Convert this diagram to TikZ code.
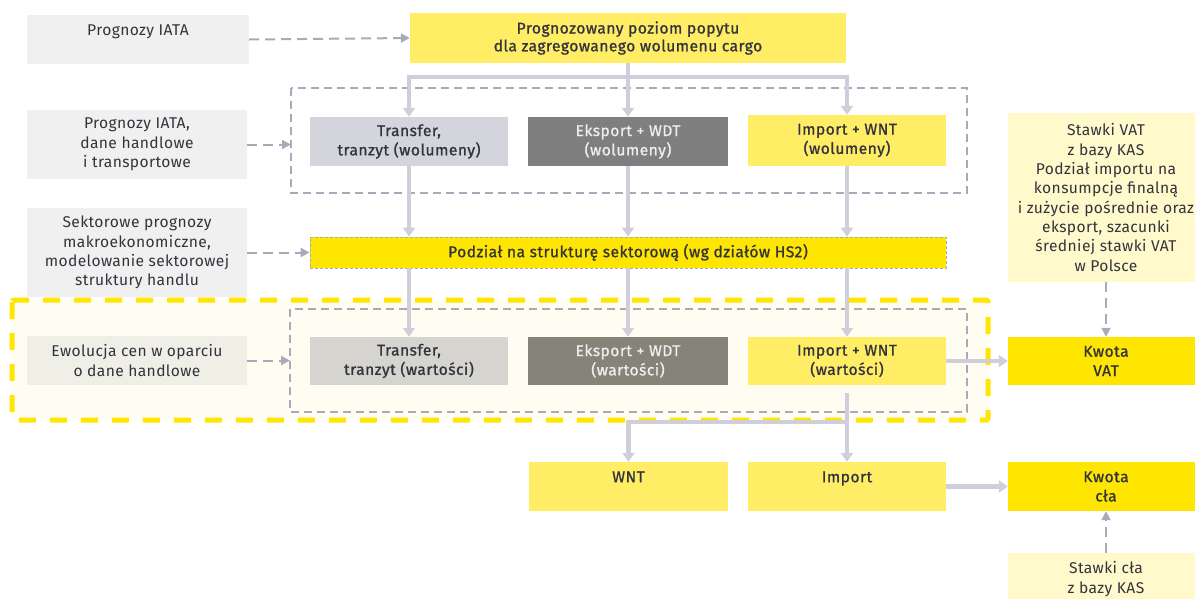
\documentclass[tikz,border=0pt]{standalone}
\usepackage{fontspec}
\setmainfont{Fira Sans}[LetterSpace=2.5]
\newfontfamily\mdfont{Fira Sans}[FakeBold=1.0,LetterSpace=3]
\usetikzlibrary{arrows.meta}
\definecolor{txt}{HTML}{33333D}
\definecolor{ingray}{HTML}{F0F0F0}
\definecolor{inolive}{HTML}{EFEFE5}
\definecolor{cream}{HTML}{FFFCF2}
\definecolor{ybright}{HTML}{FFE600}
\definecolor{ymid}{HTML}{FFED66}
\definecolor{ypale}{HTML}{FFF9CC}
\definecolor{tvol}{HTML}{D4D4DC}
\definecolor{evol}{HTML}{7F7F7F}
\definecolor{twar}{HTML}{D5D4CF}
\definecolor{ewar}{HTML}{868379}
\definecolor{dgray}{HTML}{A9A9BA}
\definecolor{sgray}{HTML}{CFCFDB}
\definecolor{lighttxt}{HTML}{EEEEEE}
\newcommand\rgsize{\fontsize{15.6}{19.3}\selectfont}
\begin{document}
\begin{tikzpicture}[x=1pt,y=-1pt,
  every node/.style={inner sep=0pt, align=center, text=txt, font=\rgsize},
  inbox/.style={fill=ingray},
  mainbox/.style={font=\rgsize\mdfont},
  sol/.style={draw=sgray, line width=4.5pt, line join=miter, -{Triangle[width=12pt,length=9pt]}},
  dsh/.style={draw=dgray, line width=2pt, dash pattern=on 10pt off 6pt, -{Triangle[width=9pt,length=9pt]}},
  grpbox/.style={draw=dgray, line width=1.6pt, dash pattern=on 8pt off 5pt}
]
\useasboundingbox (0,0) rectangle (1195,598);

% yellow highlighted region
\path[fill=cream] (12,300) rectangle (988,420);
\draw[ybright, line width=5pt, dash pattern=on 17pt off 14pt, rounded corners=2pt] (12,300) rectangle (988,420);

% group boxes
\draw[grpbox] (291,88) rectangle (967,193);
\draw[grpbox] (290,309) rectangle (967,412);

% input boxes
\node[inbox, minimum width=222pt, minimum height=49pt] (in1) at (138,39.5) {Prognozy IATA\\~};
\node[inbox, minimum width=220pt, minimum height=69pt] (in2) at (137,144.5) {Prognozy IATA,\\dane handlowe\\i transportowe};
\node[inbox, minimum width=220pt, minimum height=89pt] (in3) at (137,252.5) {Sektorowe prognozy\\makroekonomiczne,\\modelowanie sektorowej\\struktury handlu};
\node[fill=inolive, minimum width=220pt, minimum height=49pt] (in4) at (137,360.5) {Ewolucja cen w oparciu\\o dane handlowe};

% top box
\node[mainbox, fill=ymid, minimum width=436pt, minimum height=50pt] (top) at (628,38) {Prognozowany poziom popytu\\[-1.5pt]dla zagregowanego wolumenu cargo};

% volumes
\node[mainbox, fill=tvol, minimum width=198pt, minimum height=49pt] (tv) at (409,141.5) {Transfer,\\tranzyt (wolumeny)};
\node[mainbox, fill=evol, text=lighttxt, minimum width=200pt, minimum height=49pt] (ev) at (628,141.5) {Eksport + WDT\\(wolumeny)};
\node[mainbox, fill=ymid, minimum width=198pt, minimum height=51pt] (iv) at (847,140.5) {Import + WNT\\(wolumeny)};

% sector split
\node[mainbox, fill=ybright, draw=dgray, line width=0.8pt, dash pattern=on 3pt off 2pt, minimum width=636pt, minimum height=31pt] (pod) at (628,252.5) {Podział na strukturę sektorową (wg działów HS2)};

% values
\node[mainbox, fill=twar, minimum width=198pt, minimum height=48pt] (tw) at (409,361) {Transfer,\\tranzyt (wartości)};
\node[mainbox, fill=ewar, text=lighttxt, minimum width=200pt, minimum height=48pt] (ew) at (628,361) {Eksport + WDT\\(wartości)};
\node[mainbox, fill=ymid, minimum width=198pt, minimum height=48pt] (iw) at (847,361) {Import + WNT\\(wartości)};

% outputs
\node[mainbox, fill=ymid, minimum width=199pt, minimum height=49pt] (wnt) at (628.5,486.5) {WNT\\~};
\node[mainbox, fill=ymid, minimum width=198pt, minimum height=49pt] (imp) at (847,486.5) {Import\\~};

% right column
\node[fill=ypale, minimum width=196pt, minimum height=169pt] (vat) at (1106,197.5) {Stawki VAT\\z bazy KAS\\Podział importu na\\konsumpcje finalną\\i zużycie pośrednie oraz\\eksport, szacunki\\średniej stawki VAT\\w Polsce};
\node[mainbox, fill=ybright, minimum width=196pt, minimum height=48pt] (kv) at (1106,361) {Kwota\\VAT};
\node[mainbox, fill=ybright, minimum width=196pt, minimum height=49pt] (kc) at (1106,486.5) {Kwota\\cła};
\node[fill=ypale, minimum width=196pt, minimum height=52pt] (sc) at (1106,579) {Stawki cła\\z bazy KAS};

% solid connectors
\coordinate (j1) at (628,77);
\draw[sol] (top.south) -- (ev.north);
\draw[sol, {Triangle[width=12pt,length=9pt]}-{Triangle[width=12pt,length=9pt]}] (tv.north) -- (tv.north |- j1) -- (iv.north |- j1) -- (iv.north);
\draw[sol] (tv.south) -- (tv.south |- pod.north);
\draw[sol] (ev.south) -- (pod.north -| ev.south);
\draw[sol] (iv.south) -- (iv.south |- pod.north);
\draw[sol] (tv.south |- pod.south) -- (tw.north);
\draw[sol] (ev.south |- pod.south) -- (ew.north);
\draw[sol] (iv.south |- pod.south) -- (iw.north);
\draw[sol] (iw.east) -- (kv.west);
\coordinate (j2) at (847,422);
\coordinate (iwb) at (847,393);
\draw[sol] (iwb) -- (imp.north);
\draw[sol] (j2) -- (wnt.north |- j2) -- (wnt.north);
\draw[sol] (imp.east) -- (kc.west);

% dashed connectors
\draw[dsh] (in1.east) -- (top.west);
\draw[dsh] (in2.east) -- (291,144.5);
\draw[dsh] (in3.east) -- (pod.west);
\draw[dsh] (in4.east) -- (290,360.5);
\draw[dsh] (vat.south) -- (kv.north);
\draw[dsh] (sc.north) -- (kc.south);
\end{tikzpicture}
\end{document}
